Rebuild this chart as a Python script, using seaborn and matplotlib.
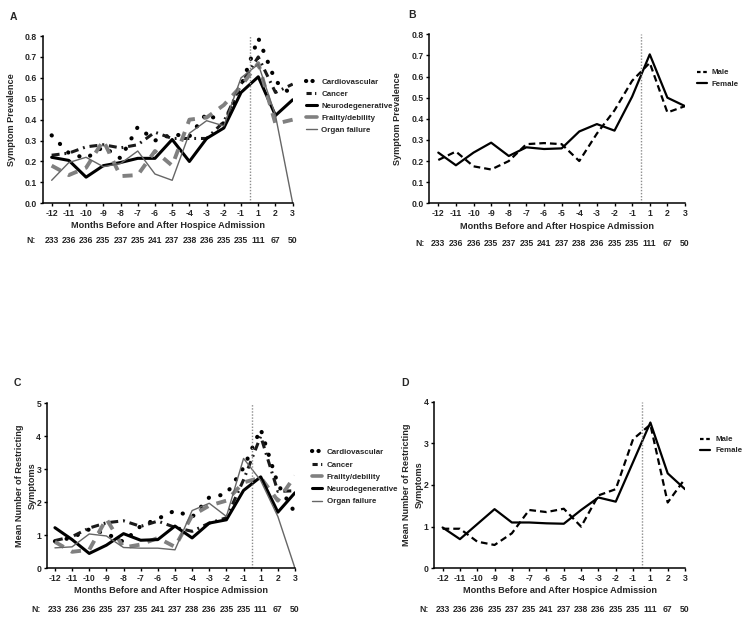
import numpy as np
import pandas as pd
import matplotlib
matplotlib.use("Agg")
import matplotlib.pyplot as plt
import seaborn as sns

# ---------------- data ----------------
months = ["-12", "-11", "-10", "-9", "-8", "-7", "-6", "-5", "-4", "-3", "-2", "-1", "1", "2", "3"]
n_counts = [233, 236, 236, 235, 237, 235, 241, 237, 238, 236, 235, 235, 111, 67, 50]

# Panel A: symptom prevalence by diagnosis
cardio_prev = [0.325, 0.24, 0.215, 0.27, 0.215, 0.365, 0.30, 0.33, 0.32, 0.43, 0.38, 0.56, 0.79, 0.585, 0.515]
cancer_prev = [0.23, 0.24, 0.27, 0.28, 0.265, 0.28, 0.34, 0.31, 0.31, 0.31, 0.39, 0.57, 0.70, 0.53, 0.57]
neuro_prev = [0.22, 0.205, 0.125, 0.18, 0.195, 0.215, 0.215, 0.305, 0.20, 0.31, 0.36, 0.53, 0.605, 0.42, 0.495]
frailty_prev = [0.18, 0.135, 0.17, 0.30, 0.13, 0.135, 0.25, 0.18, 0.40, 0.41, 0.47, 0.56, 0.67, 0.38, 0.40]
organ_prev = [0.11, 0.195, 0.22, 0.175, 0.19, 0.25, 0.14, 0.11, 0.335, 0.395, 0.37, 0.60, 0.665, 0.42, 0.0]

# Panel B: symptom prevalence by sex
male_prev = [0.205, 0.245, 0.175, 0.16, 0.20, 0.28, 0.285, 0.28, 0.20, 0.33, 0.44, 0.58, 0.665, 0.43, 0.46]
female_prev = [0.24, 0.18, 0.24, 0.287, 0.224, 0.265, 0.257, 0.26, 0.34, 0.375, 0.344, 0.505, 0.705, 0.50, 0.46]

# Panel C: mean number of restricting symptoms by diagnosis
cardio_mean = [0.82, 0.93, 1.18, 1.05, 0.80, 1.28, 1.50, 1.75, 1.55, 2.15, 2.25, 3.05, 4.22, 2.55, 1.68]
cancer_mean = [0.84, 0.96, 1.22, 1.38, 1.44, 1.27, 1.43, 1.24, 1.12, 1.37, 1.53, 2.68, 4.00, 2.33, 2.35]
frailty_mean = [0.80, 0.50, 0.56, 1.50, 0.63, 0.72, 0.92, 0.65, 1.60, 1.90, 2.05, 2.60, 2.75, 2.05, 2.80]
neuro_mean = [1.23, 0.87, 0.45, 0.70, 1.05, 0.85, 0.87, 1.28, 0.92, 1.37, 1.47, 2.36, 2.77, 1.70, 2.29]
organ_mean = [0.62, 0.65, 1.04, 0.98, 0.63, 0.61, 0.61, 0.56, 1.75, 1.97, 1.57, 3.33, 2.66, 1.57, 0.0]

# Panel D: mean number of restricting symptoms by sex
male_mean = [0.95, 0.95, 0.64, 0.56, 0.84, 1.40, 1.35, 1.43, 1.00, 1.75, 1.90, 3.10, 3.45, 1.58, 2.15]
female_mean = [0.98, 0.70, 1.06, 1.42, 1.10, 1.10, 1.08, 1.07, 1.40, 1.70, 1.60, 2.55, 3.50, 2.28, 1.90]

xlabel_text = "Months Before and After Hospice Admission"

# ---------------- style ----------------
sns.set_theme(style="ticks")
plt.rcParams["font.family"] = ["Liberation Sans", "DejaVu Sans"]
plt.rcParams["font.weight"] = "bold"

STYLES = {
    "Cardiovascular": dict(color="black", lw=3.0, ls=(0, (0.05, 2.8)), dash_capstyle="round"),
    "Cancer": dict(color="#1a1a1a", lw=2.2, ls=(0, (2.6, 1.6, 0.6, 1.6))),
    "Neurodegenerative": dict(color="black", lw=2.2, ls="-"),
    "Frailty/debility": dict(color="#808080", lw=2.8, ls=(0, (2.6, 2.2))),
    "Organ failure": dict(color="#666666", lw=1.0, ls="-"),
    "Male": dict(color="black", lw=1.6, ls=(0, (3, 1.8))),
    "Female": dict(color="black", lw=1.6, ls="-"),
}
# compact dash patterns for the short legend keys
LEGEND_DASHES = {
    "Cardiovascular": (0, (0.05, 1.5)),
    "Cancer": (0, (1.7, 1.1, 0.4, 1.1)),
    "Male": (0, (1.6, 1.2)),
}

TICK_FS = 6.2
LABEL_FS = 6.6
LEG_FS = 5.7

W, H = 751, 619
fig = plt.figure(figsize=(W / 100, H / 100), dpi=100)


def px_axes(left, right, bottom, top):
    return fig.add_axes([left / W, 1 - bottom / H, (right - left) / W, (bottom - top) / H])


def draw_panel(ax, series, ymax, yticks, yfmt, xleft, ylabel, ylab_x, ylab_ls, leg_anchor, leg_spacing,
               letter, letter_xy, n_y, nlab_x, xlab_y):
    x = np.arange(len(months))
    for name, vals in series:
        st = STYLES[name]
        df = pd.DataFrame({"x": x, "y": vals})
        sns.lineplot(data=df, x="x", y="y", ax=ax, color=st["color"], linewidth=st["lw"],
                     linestyle=st["ls"], label=name, legend=False,
                     **({"dash_capstyle": st["dash_capstyle"]} if "dash_capstyle" in st else {}))
    ax.axvline(11.5, ymin=0, ymax=1, color="#8c8c8c", lw=1.0, ls=(0, (1, 1.2)))
    ax.set_xlim(xleft, 14)
    ax.set_ylim(0, ymax)
    ax.set_xticks(x)
    ax.set_xticklabels(months, fontsize=TICK_FS, fontweight="bold")
    ax.set_yticks(yticks)
    ax.set_yticklabels([yfmt.format(v) for v in yticks], fontsize=TICK_FS, fontweight="bold")
    ax.tick_params(axis="both", direction="out", length=2.5, width=1.0, pad=1.5, color="black")
    for s in ["top", "right"]:
        ax.spines[s].set_visible(False)
    for s in ["left", "bottom"]:
        ax.spines[s].set_linewidth(1.1)
        ax.spines[s].set_color("black")
    ax.set_xlabel(xlabel_text, fontsize=LABEL_FS, fontweight="bold")
    ax.xaxis.set_label_coords(0.5, xlab_y)
    ax.set_ylabel(ylabel, fontsize=LABEL_FS, fontweight="bold", linespacing=ylab_ls)
    ax.yaxis.set_label_coords(ylab_x, 0.5)
    ax.set_facecolor("none")
    # N row
    trans = ax.get_xaxis_transform()
    for xi, n in zip(x, n_counts):
        ax.text(xi, n_y, str(n), transform=trans, ha="center", va="center",
                fontsize=TICK_FS, fontweight="bold")
    ax.text(nlab_x, n_y, "N:", transform=trans, ha="center", va="center",
            fontsize=TICK_FS, fontweight="bold")
    leg = ax.legend(loc="upper left", bbox_to_anchor=leg_anchor, frameon=False, fontsize=LEG_FS,
                    handlelength=1.3, handletextpad=0.6, labelspacing=leg_spacing, borderaxespad=0,
                    borderpad=0)
    for t, h in zip(leg.get_texts(), leg.legend_handles):
        t.set_fontweight("bold")
        name = t.get_text()
        if name in LEGEND_DASHES:
            h.set_linestyle(LEGEND_DASHES[name])
        if name == "Frailty/debility":
            h.set_linestyle("-")
            h.set_linewidth(2.6)
    fig.text(letter_xy[0] / W, 1 - letter_xy[1] / H, letter, fontsize=7.5, fontweight="bold",
             ha="center", va="center")


# Panel A
axA = px_axes(42.7, 292.7, 203.3, 36.0)
draw_panel(axA,
           [("Cardiovascular", cardio_prev), ("Cancer", cancer_prev), ("Neurodegenerative", neuro_prev),
            ("Frailty/debility", frailty_prev), ("Organ failure", organ_prev)],
           0.8, np.round(np.arange(0, 0.81, 0.1), 1), "{:.1f}", -0.52,
           "Symptom Prevalence", -0.108, 1.2, (1.055, 0.745), 0.56, "A", (13, 17),
           -0.225, -1.2, -0.105)

# Panel B
axB = px_axes(429.3, 685.0, 203.3, 34.3)
draw_panel(axB, [("Male", male_prev), ("Female", female_prev)],
           0.8, np.round(np.arange(0, 0.81, 0.1), 1), "{:.1f}", -0.51,
           "Symptom Prevalence", -0.106, 1.2, (1.045, 0.795), 0.45, "B", (412, 15),
           -0.24, -1.05, -0.11)

# Panel C
axC = px_axes(46.7, 295.0, 568.3, 403.3)
draw_panel(axC,
           [("Cardiovascular", cardio_mean), ("Cancer", cancer_mean), ("Frailty/debility", frailty_mean),
            ("Neurodegenerative", neuro_mean), ("Organ failure", organ_mean)],
           5, [0, 1, 2, 3, 4, 5], "{:d}", -0.48,
           "Mean Number of Restricting\nSymptoms", -0.04, 1.55, (1.068, 0.725), 0.6, "C", (17, 383),
           -0.25, -1.1, -0.105)

# Panel D
axD = px_axes(434.3, 685.0, 568.3, 401.7)
draw_panel(axD, [("Male", male_mean), ("Female", female_mean)],
           4, [0, 1, 2, 3, 4], "{:d}", -0.48,
           "Mean Number of Restricting\nSymptoms", -0.042, 1.55, (1.06, 0.795), 0.45, "D", (405, 383),
           -0.25, -1.1, -0.105)

fig.savefig("out.png", dpi=100, facecolor="white")
